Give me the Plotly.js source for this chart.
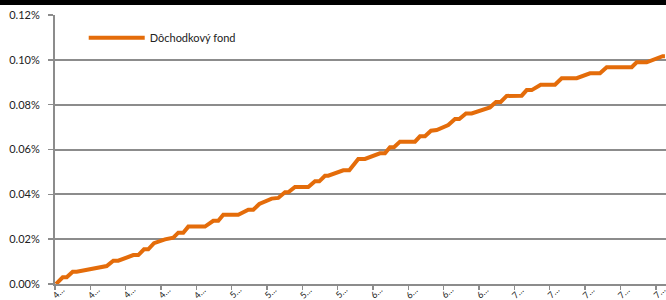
<!DOCTYPE html>
<html>
<head>
<meta charset="utf-8">
<script src="https://cdn.plot.ly/plotly-3.0.1.min.js"></script>
<style>
html,body{margin:0;padding:0;background:#fff;}
#chart{width:666px;height:300px;}
</style>
</head>
<body>
<div id="chart"></div>
<script>
// Period index (x) and value in % (y)
var seriesName = "Dôchodkový fond";
var periodX = [0.03,0.218,0.331,0.501,0.614,1.463,1.650,1.791,2.216,2.357,2.518,2.640,2.801,3.113,3.347,3.489,3.630,3.772,4.244,4.479,4.621,4.762,5.187,5.470,5.611,5.781,6.132,6.319,6.508,6.602,6.791,7.168,7.357,7.479,7.640,7.733,8.158,8.328,8.582,8.772,9.196,9.338,9.479,9.592,9.762,10.187,10.328,10.470,10.640,10.801,11.129,11.319,11.440,11.630,11.791,12.309,12.479,12.612,12.782,13.206,13.348,13.489,13.744,14.149,14.338,14.763,15.139,15.422,15.611,16.319,16.460,16.743,17.196,17.26];
var fundValues = [0.0000,0.0030,0.0030,0.0055,0.0055,0.0080,0.0104,0.0104,0.0129,0.0129,0.0155,0.0155,0.0182,0.0199,0.0207,0.0229,0.0229,0.0256,0.0256,0.0282,0.0282,0.0309,0.0309,0.0331,0.0331,0.0357,0.0381,0.0384,0.0409,0.0409,0.0433,0.0433,0.0458,0.0458,0.0483,0.0483,0.0507,0.0507,0.0558,0.0558,0.0583,0.0583,0.0610,0.0610,0.0635,0.0635,0.0659,0.0659,0.0684,0.0687,0.0709,0.0736,0.0736,0.0761,0.0761,0.0788,0.0812,0.0812,0.0839,0.0840,0.0865,0.0865,0.0889,0.0889,0.0918,0.0918,0.0940,0.0940,0.0967,0.0967,0.0989,0.0989,0.1016,0.1016];
var tickPositions = [0,1,2,3,4,5,6,7,8,9,10,11,12,13,14,15,16,17];
var tickLabels = ["4…","4…","4…","4…","4…","5…","5…","5…","5…","6…","6…","6…","6…","7…","7…","7…","7…","7…"];
var yTicks = [0,0.02,0.04,0.06,0.08,0.10,0.12];
var yTickLabels = ["0.00%","0.02%","0.04%","0.06%","0.08%","0.10%","0.12%"];

var font = "Lato, 'Open Sans', 'Liberation Sans', sans-serif";
var gridColor = "#8c8c8c";

var trace = {
  x: periodX, y: fundValues, type: "scatter", mode: "lines",
  name: seriesName,
  line: {color: "#E46C0A", width: 4},
  showlegend: true
};

// rotated category labels drawn as annotations at the tick positions
var tickAnnotations = tickPositions.map(function (p, i) {
  return {
    x: p, xref: "x", y: 0, yref: "paper",
    text: tickLabels[i], showarrow: false, textangle: -45,
    xanchor: "center", yanchor: "middle", xshift: 3, yshift: -8,
    font: {family: font, size: 9, color: "#222"}
  };
});

var layout = {
  width: 666, height: 300,
  margin: {l: 55, r: 0, t: 15, b: 16, pad: 0},
  paper_bgcolor: "#ffffff", plot_bgcolor: "#ffffff",
  font: {family: font, size: 11, color: "#222"},
  showlegend: true,
  legend: {x: 0.047, y: 0.915, xanchor: "left", yanchor: "middle", itemwidth: 56,
           bgcolor: "rgba(0,0,0,0)", font: {family: font, size: 11, color: "#222"}},
  xaxis: {
    range: [0, 17.29], showgrid: false, zeroline: false,
    showline: true, linecolor: gridColor, linewidth: 2,
    ticks: "outside", ticklen: 4, tickwidth: 1.5, tickcolor: gridColor,
    tickmode: "array", tickvals: tickPositions, showticklabels: false,
    fixedrange: true
  },
  yaxis: {
    range: [0, 0.12], tickmode: "array", tickvals: yTicks, ticktext: yTickLabels,
    showgrid: true, gridcolor: gridColor, gridwidth: 2,
    zeroline: false, showline: true, linecolor: gridColor, linewidth: 2,
    ticks: "outside", ticklen: 5, tickwidth: 1.5, tickcolor: gridColor,
    tickfont: {family: font, size: 11, color: "#222"},
    ticklabelstandoff: 6,
    fixedrange: true
  },
  annotations: tickAnnotations,
  shapes: [{type: "rect", xref: "paper", yref: "paper",
            x0: -0.2, x1: 1.2, y0: 1 + 10/269, y1: 1 + 20/269,
            fillcolor: "#000", line: {width: 0}, layer: "above"}]
};

Plotly.newPlot("chart", [trace], layout, {displayModeBar: false, staticPlot: true});
</script>
</body>
</html>
